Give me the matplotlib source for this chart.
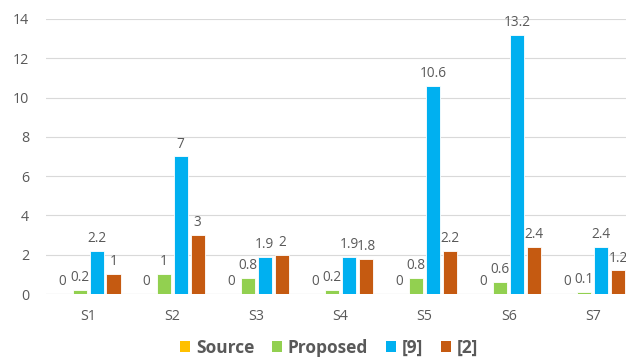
import matplotlib
matplotlib.use("Agg")
import matplotlib.pyplot as plt
import numpy as np
from matplotlib.patches import Patch

categories = ["S1", "S2", "S3", "S4", "S5", "S6", "S7"]
source = [0, 0, 0, 0, 0, 0, 0]
proposed = [0.2, 1, 0.8, 0.2, 0.8, 0.6, 0.1]
ref9 = [2.2, 7, 1.9, 1.9, 10.6, 13.2, 2.4]
ref2 = [1, 3, 2, 1.8, 2.2, 2.4, 1.2]
series_names = ["Source", "Proposed", "[9]", "[2]"]
colors = ["#FFC000", "#92D050", "#00B0F0", "#C55A11"]
yticks = [0, 2, 4, 6, 8, 10, 12, 14]

plt.rcParams['font.family'] = ['Open Sans', 'DejaVu Sans']

W, H = 626, 358
fig = plt.figure(figsize=(W / 100, H / 100), dpi=100)
left, right, bottom, top = 46, 635, 294, 19
ax = fig.add_axes([left / W, (H - bottom) / H, (right - left) / W, (bottom - top) / H])

x = np.arange(len(categories))
pitch = 0.202
width = 0.168
series = [source, proposed, ref9, ref2]
for i, (vals, name, c) in enumerate(zip(series, series_names, colors)):
    pos = x + (i - 1.5) * pitch
    ax.bar(pos, vals, width=width, color=c, edgecolor="white", linewidth=0.6, zorder=3)
    for xp, v in zip(pos, vals):
        ax.annotate(f"{v:g}", (xp, v), xytext=(0, 3.5), textcoords="offset points",
                    ha="center", va="bottom", fontsize=9.8, color="#595959")

ax.set_xlim(-0.5, 6.5)
ax.set_ylim(0, 14)
ax.set_yticks(yticks)
ax.set_yticklabels([str(t) for t in yticks])
ax.set_xticks(x)
ax.set_xticklabels(categories)
ax.tick_params(axis="both", length=0, labelsize=10.3, colors="#595959")
ax.tick_params(axis="x", pad=11)
ax.tick_params(axis="y", pad=12)
ax.yaxis.grid(True, color="#D9D9D9", linewidth=0.8, zorder=0)
ax.set_axisbelow(True)
for s in ax.spines.values():
    s.set_visible(False)
ax.axhline(0, color="#D9D9D9", linewidth=0.8, zorder=2)

handles = [Patch(facecolor=c, edgecolor="none") for c in colors]
leg = fig.legend(handles, series_names, loc="center", bbox_to_anchor=(329 / W, (H - 348) / H),
                 ncol=4, frameon=False, handlelength=0.58, handleheight=0.58,
                 handletextpad=0.35, columnspacing=1.0,
                 prop={"size": 12.5, "weight": "bold"})
for t in leg.get_texts():
    t.set_color("#595959")

fig.savefig("out.png", dpi=100)
